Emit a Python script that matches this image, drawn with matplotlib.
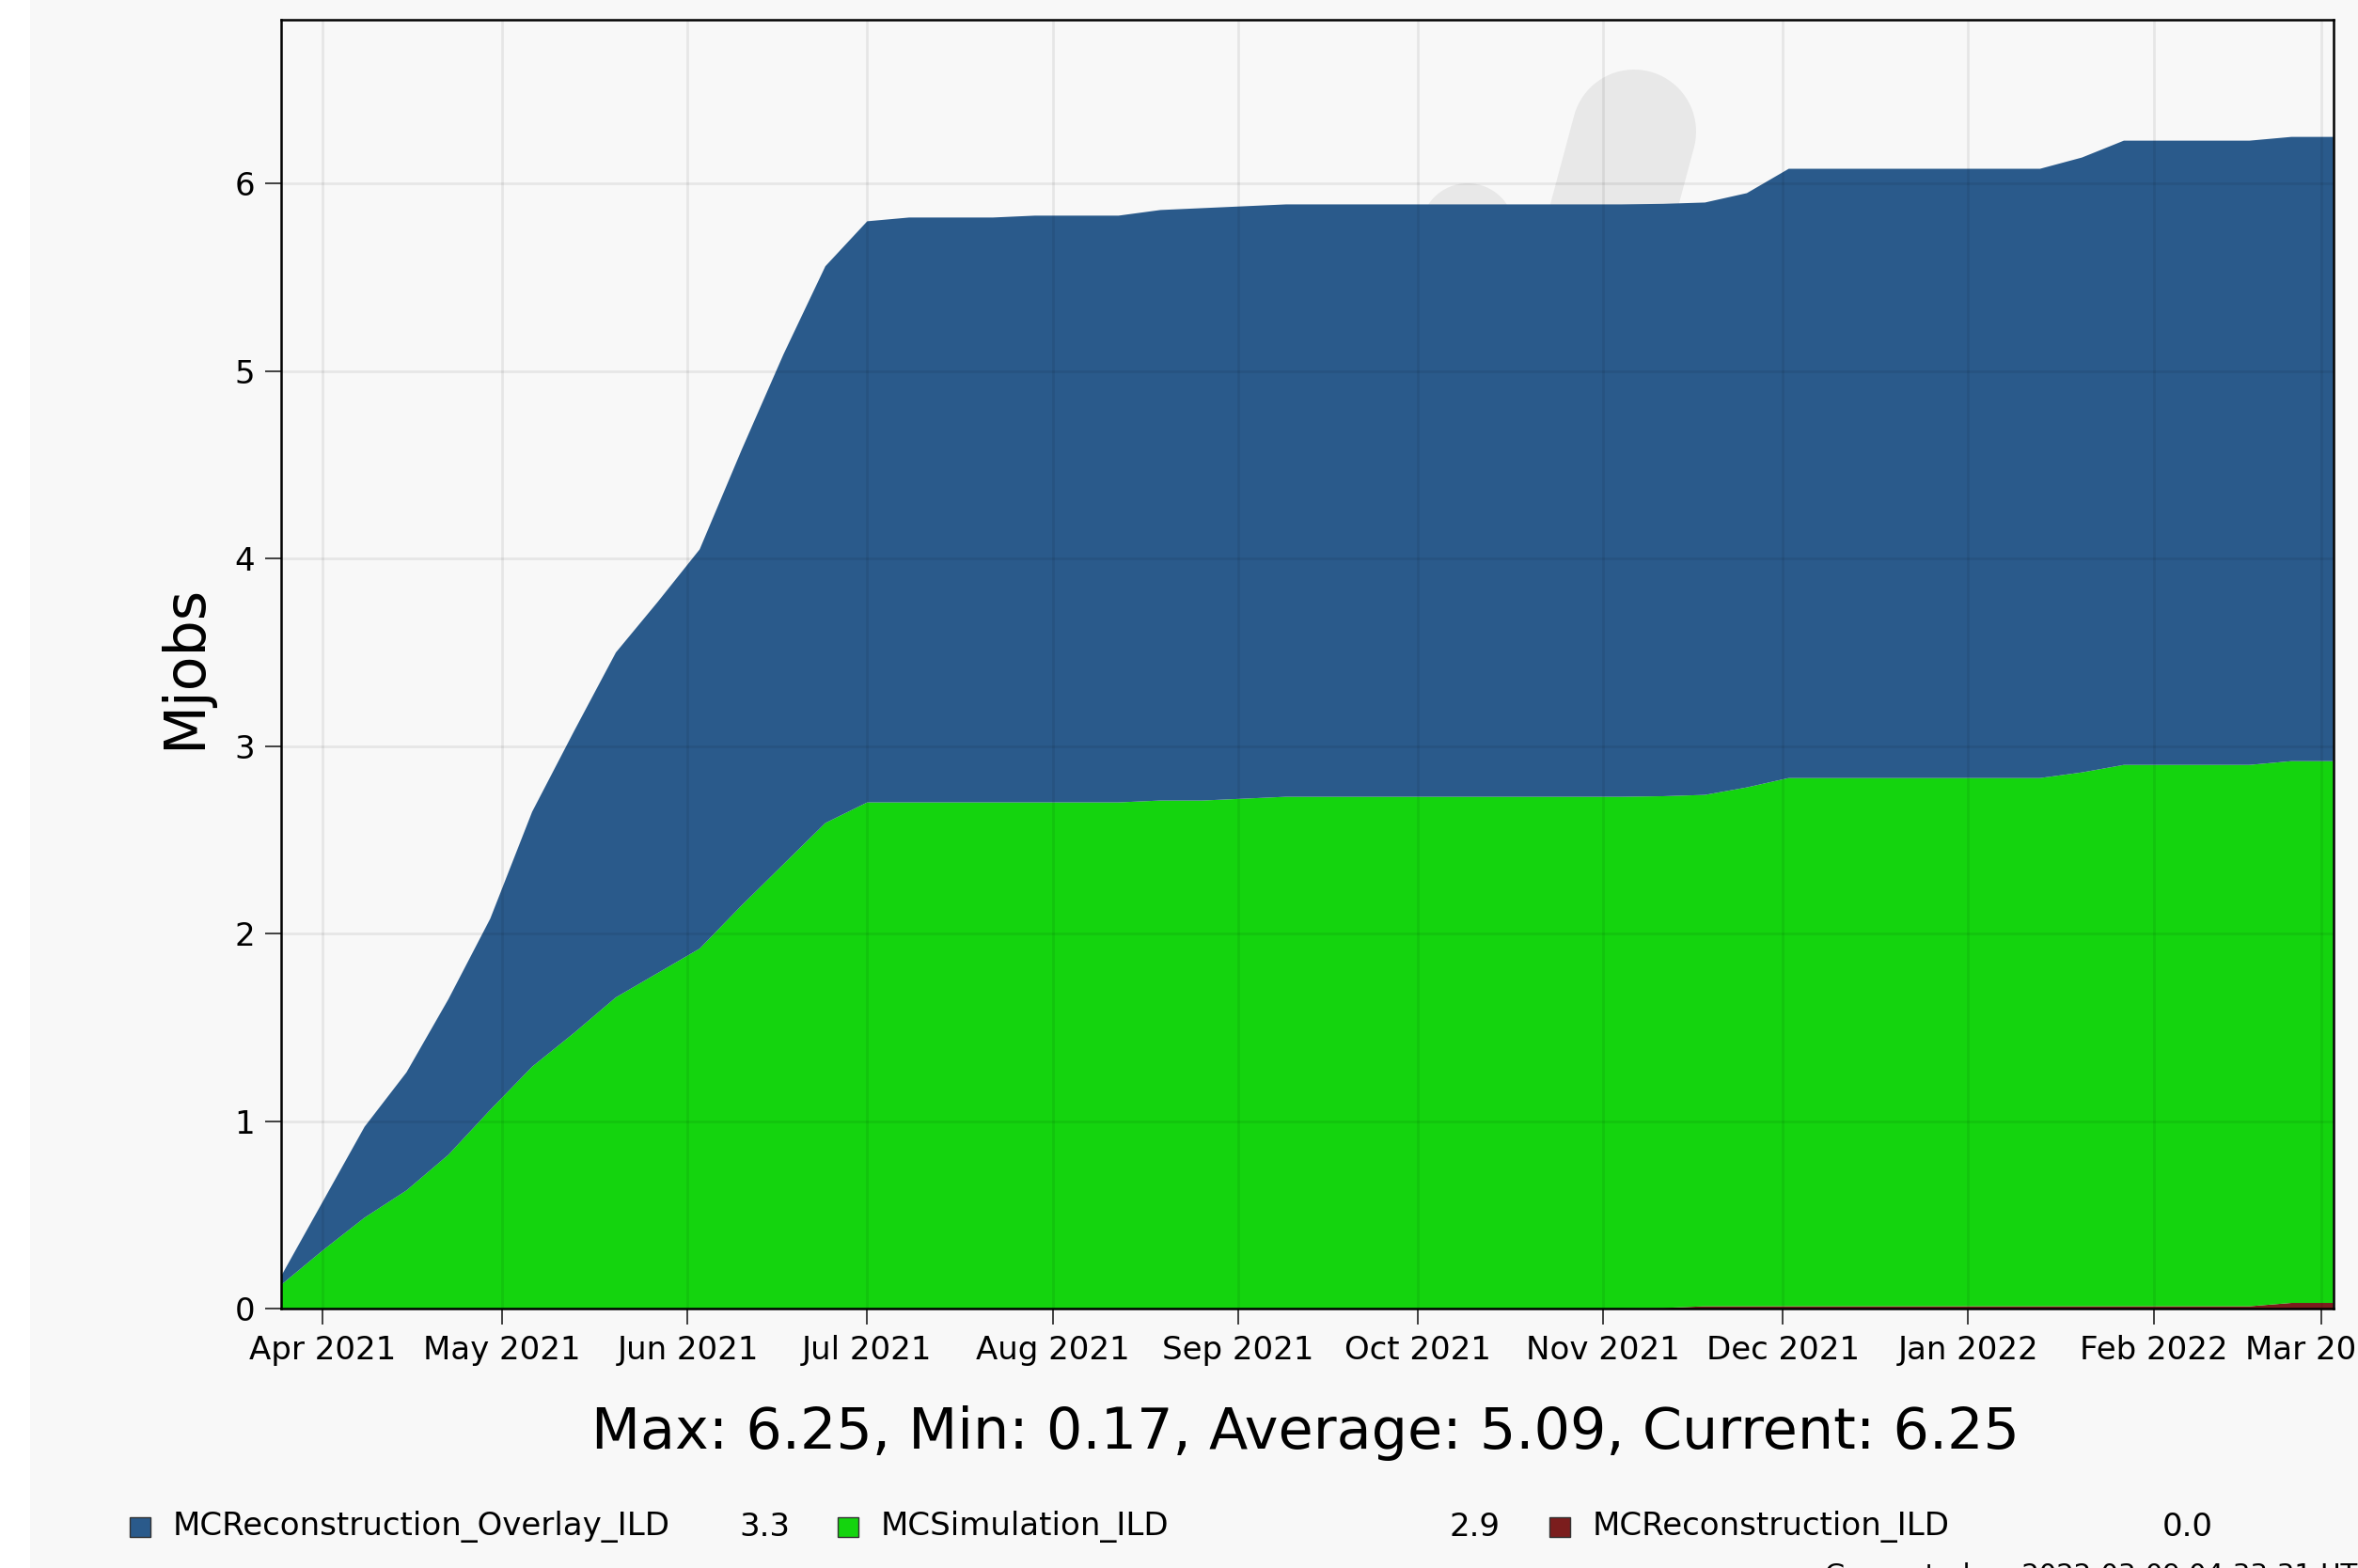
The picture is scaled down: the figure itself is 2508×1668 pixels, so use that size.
import numpy as np
import pandas as pd
import matplotlib
matplotlib.use('Agg')
import matplotlib.pyplot as plt
import matplotlib.dates as mdates
from matplotlib.patches import Rectangle, Ellipse, Polygon
from matplotlib.ticker import MultipleLocator

# cumulative jobs per week (Mjobs)
weeks = pd.date_range('2021-03-25', '2022-03-03', freq='7D')

recon_ild = [0, 0, 0, 0, 0, 0, 0, 0, 0, 0,
             0, 0, 0, 0, 0, 0, 0, 0, 0, 0,
             0, 0, 0, 0, 0, 0, 0, 0, 0, 0,
             0, 0, 0, 0.003, 0.012, 0.012, 0.012, 0.012, 0.012, 0.012,
             0.012, 0.012, 0.012, 0.012, 0.012, 0.012, 0.012, 0.012, 0.03, 0.03]

sim_ild = [0.125, 0.31, 0.485, 0.63, 0.82, 1.06, 1.29, 1.47, 1.66, 1.79,
           1.92, 2.15, 2.37, 2.59, 2.70, 2.70, 2.70, 2.70, 2.70, 2.70,
           2.70, 2.71, 2.71, 2.72, 2.73, 2.73, 2.73, 2.73, 2.73, 2.73,
           2.73, 2.73, 2.73, 2.73, 2.728, 2.768, 2.818, 2.818, 2.818, 2.818,
           2.818, 2.818, 2.818, 2.848, 2.888, 2.888, 2.888, 2.888, 2.89, 2.89]

overlay_ild = [0.045, 0.26, 0.485, 0.63, 0.83, 1.02, 1.36, 1.61, 1.84, 1.98,
               2.13, 2.43, 2.72, 2.97, 3.10, 3.12, 3.12, 3.12, 3.13, 3.13,
               3.13, 3.15, 3.16, 3.16, 3.16, 3.16, 3.16, 3.16, 3.16, 3.16,
               3.16, 3.16, 3.16, 3.16, 3.16, 3.17, 3.25, 3.25, 3.25, 3.25,
               3.25, 3.25, 3.25, 3.28, 3.33, 3.33, 3.33, 3.33, 3.33, 3.33]

names = ['MCReconstruction_Overlay_ILD', 'MCSimulation_ILD', 'MCReconstruction_ILD']
colors = ['#2a5a8b', '#14d40e', '#7b1d1d']
stats_text = 'Max: 6.25, Min: 0.17, Average: 5.09, Current: 6.25'
generated = 'Generated on 2022-03-09 04:33:31 UTC'

W, H = 2508, 1668
bg = '#f8f8f8'

fig = plt.figure(figsize=(W / 100, H / 100), dpi=100, facecolor=bg)
# white strip on the left edge
fig.add_artist(Rectangle((0, 0), 32 / W, 1, transform=fig.transFigure,
                         facecolor='white', edgecolor='none', zorder=0))

ax = fig.add_axes([298.7 / W, 1 - 1392 / H, (2481.7 - 298.7) / W, (1392 - 21) / H])
ax.set_facecolor(bg)

# faint logo watermark behind the data
ang = np.radians(15)
up = np.array([np.sin(ang), -np.cos(ang)])
across = np.array([np.cos(ang), np.sin(ang)])
c = np.array([1738.0, 140.0])
r = 66
t = np.linspace(0, np.pi, 40)
pts = [c + r * np.cos(tt) * across + r * np.sin(tt) * up for tt in t]
pts += [c - r * across - 600 * up, c + r * across - 600 * up]
pts = np.array(pts)
pts = np.column_stack([pts[:, 0] / W, 1 - pts[:, 1] / H])
ax.add_patch(Polygon(pts, closed=True, transform=fig.transFigure,
                     facecolor='#e8e8e8', edgecolor='none', zorder=0.5))
ax.add_patch(Ellipse((1561 / W, 1 - 245 / H), 100 / W, 100 / H, transform=fig.transFigure,
                     facecolor='#e8e8e8', edgecolor='none', zorder=0.5))

ax.stackplot(weeks, recon_ild, sim_ild, overlay_ild,
             colors=[colors[2], colors[1], colors[0]], linewidth=0, zorder=1)

ax.set_xlim(weeks[0], weeks[-1])
ax.set_ylim(0, 6.875)
ax.yaxis.set_major_locator(MultipleLocator(1))
ax.xaxis.set_major_locator(mdates.MonthLocator())
ax.xaxis.set_major_formatter(mdates.DateFormatter('%b %Y'))

ax.set_axisbelow(False)
ax.grid(True, color='black', alpha=0.07, linewidth=2)
for s in ax.spines.values():
    s.set_linewidth(1.8)
    s.set_color('black')
    s.set_zorder(5)
ax.tick_params(direction='out', length=12, width=1.2, labelsize=24.5, pad=8,
               top=False, right=False, color='#222222')

fig.text(197 / W, 1 - 709 / H, 'Mjobs', rotation=90, fontsize=43.5, ha='center', va='center')
fig.text(1388 / W, 1 - 1525 / H, stats_text, fontsize=43.5, ha='center', va='center')

# legend row: square, name, last value
series_last = [overlay_ild[-1], sim_ild[-1], recon_ild[-1]]
col_x = [138, 891, 1648]
val_x = [840, 1595, 2354]
ly = 1624
for i in range(3):
    fig.add_artist(Rectangle((col_x[i] / W, 1 - (ly + 11) / H), 22 / W, 21 / H,
                             transform=fig.transFigure, facecolor=colors[i],
                             edgecolor='#333333', linewidth=1))
    fig.text((col_x[i] + 46) / W, 1 - ly / H, names[i], fontsize=24.5, ha='left', va='center')
    fig.text(val_x[i] / W, 1 - ly / H, '%.1f' % series_last[i], fontsize=24.5,
             ha='right', va='center')

fig.text(1941 / W, 1 - 1662 / H, generated, fontsize=21, ha='left', va='top')

fig.savefig('out.png', dpi=100, facecolor=fig.get_facecolor())
